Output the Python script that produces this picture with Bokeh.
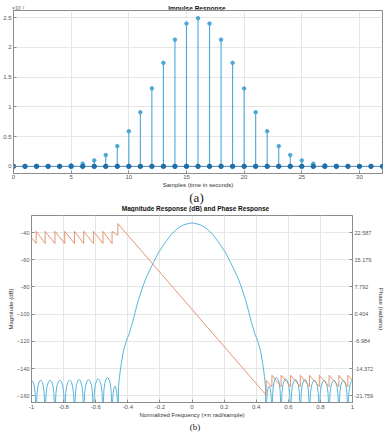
from bokeh.plotting import figure
from bokeh.models import (Range1d, LinearAxis, FixedTicker, PrintfTickFormatter,
                          CustomJSTickFormatter, Div)
from bokeh.core.properties import value
from bokeh.embed import file_html
from bokeh.resources import INLINE

# ---------------- impulse response (33 taps, values in units of 1e-3) ----------------
n = list(range(33))
h_milli = [0, 0, 0, 0, 0, 0.017, 0.045, 0.10, 0.19, 0.34, 0.59, 0.91, 1.31, 1.74, 2.13,
           2.40, 2.49, 2.40, 2.13, 1.74, 1.31, 0.91, 0.59, 0.34, 0.19, 0.10, 0.045, 0.017,
           0, 0, 0, 0, 0]
x_ticks_a = [0, 5, 10, 15, 20, 25, 30]
y_ticks_a = [0, 0.5, 1, 1.5, 2, 2.5]

# ---------------- magnitude response (dB), one half; the response is even ----------------
pass_f = [0.0, 0.05, 0.09, 0.13, 0.17, 0.21, 0.24, 0.285, 0.31, 0.335, 0.355, 0.37,
          0.39, 0.41, 0.427, 0.44, 0.452, 0.458]
pass_db = [-32.9, -34.2, -37.0, -41.5, -48.0, -55.0, -62.0, -73.0, -81.0, -90.0, -99.0,
           -106.0, -114.0, -120.0, -127.0, -136.0, -146.0, -154.0]
stop_nulls = [0.462, 0.498, 0.555, 0.614, 0.675, 0.732, 0.793, 0.854, 0.915, 0.971, 1.029]
stop_peaks = [-153.0, -146.5, -147.5, -148.0, -148.0, -148.5, -148.5, -148.5, -148.5, -148.5]
# sidelobe outline: position inside a lobe and level below the lobe's peak
lobe_t = [0.0, 0.04, 0.1, 0.2, 0.35, 0.5, 0.65, 0.8, 0.9, 0.96, 1.0]
lobe_drop = [-60.0, -20.0, -10.0, -4.3, -1.2, 0.0, -1.2, -4.3, -10.0, -20.0, -60.0]

# ---------------- phase response (radians): vertices at the sidelobe nulls ----------------
left_start = (-1.0, 21.1)
left_nulls = [-0.971, -0.915, -0.854, -0.793, -0.732, -0.675, -0.614, -0.555, -0.498, -0.462]
left_lo = [19.6, 19.6, 19.6, 19.6, 19.6, 19.6, 19.6, 19.6, 19.6, 21.8]
left_hi = [22.9, 22.9, 22.9, 22.9, 22.9, 22.9, 22.9, 22.9, 22.9, 25.0]
right_nulls = [0.462, 0.498, 0.555, 0.614, 0.675, 0.732, 0.793, 0.854, 0.915, 0.971]
right_lo = [-21.6, -19.4, -19.3, -19.3, -19.3, -19.3, -19.3, -19.3, -19.3, -19.3]
right_hi = [-17.6, -16.2, -16.2, -16.2, -16.2, -16.2, -16.2, -16.2, -16.2, -16.2]
right_end = (1.0, -17.7)

x_ticks_b = [-1, -0.8, -0.6, -0.4, -0.2, 0, 0.2, 0.4, 0.6, 0.8, 1]
mag_ticks = [-40, -60, -80, -100, -120, -140, -160]
phase_ticks = [22.587, 15.179, 7.792, 0.404, -6.984, -14.372, -21.759]

W = 387
SANS = "Liberation Sans"
SERIF = "Liberation Serif"
TICK_COLOR = "#555555"
GRID = "#e6e6e6"
FRAME = "#8c8c8c"
short_fmt = CustomJSTickFormatter(code="return String(Math.round(tick * 10) / 10)")


def style_axis(ax, label_size="6px"):
    ax.major_label_text_font = SANS
    ax.major_label_text_font_size = label_size
    ax.major_label_text_color = TICK_COLOR
    ax.major_tick_in = 3
    ax.major_tick_out = 0
    ax.minor_tick_in = 0
    ax.minor_tick_out = 0
    ax.major_label_standoff = 1
    ax.axis_line_color = FRAME
    ax.major_tick_line_color = FRAME
    ax.axis_label_text_font = SANS
    ax.axis_label_text_font_size = "6px"
    ax.axis_label_text_font_style = "normal"
    ax.axis_label_text_color = "#333333"
    ax.axis_label_standoff = 0


def text_strip(height, items):
    """A borderless strip holding titles and captions, positioned in pixels from its top-left."""
    s = figure(width=W, height=height, x_range=Range1d(0, W), y_range=Range1d(height, 0),
               x_axis_type=None, y_axis_type=None, output_backend="svg",
               toolbar_location=None, min_border=0, title=None)
    s.outline_line_color = None
    s.grid.visible = False
    for x, y, txt, font, size, style, align, color in items:
        s.text(x=[x], y=[y], text=[txt], text_font=value(font), text_font_size=value(size),
               text_font_style=style, text_align=align, text_baseline="middle",
               text_color=color)
    return s


def span(txt, left, top, width, font, size, weight, color, align, line_h):
    return (f'<span style="position:absolute;left:{left}px;top:{top}px;width:{width}px;'
            f'text-align:{align};font-family:\'{font}\';font-size:{size};font-weight:{weight};'
            f'color:{color};line-height:{line_h}px;white-space:nowrap;">{txt}</span>')


def header(height, spans):
    html = (f'<div style="position:relative;width:{W}px;height:{height}px;">'
            + "".join(spans) + '</div>')
    return Div(text=html, width=W, height=height, margin=(0, 0, 0, 0))


# ================= (a) impulse response =================
head_a = header(9, [
    span("×10⁻³", 12, 2, 30, SANS, "5px", "normal", TICK_COLOR, "left", 6),
    span("Impulse Response", 0, 2, 394, SANS, "6.5px", "bold", "#111111", "center", 8),
])

p1 = figure(width=W, height=181, x_range=Range1d(0, 32), y_range=Range1d(-0.12, 2.62),
            output_backend="svg", toolbar_location=None, title=None,
            min_border_left=12, min_border_right=5, min_border_top=1, min_border_bottom=17)
p1.outline_line_color = FRAME
p1.xgrid.grid_line_color = GRID
p1.ygrid.grid_line_color = GRID
p1.xaxis.ticker = FixedTicker(ticks=x_ticks_a)
p1.yaxis.ticker = FixedTicker(ticks=y_ticks_a)
p1.yaxis.formatter = short_fmt
p1.xaxis.axis_label = "Samples (time in seconds)"
style_axis(p1.xaxis[0])
style_axis(p1.yaxis[0])
p1.yaxis.major_label_standoff = 2

p1.segment(x0=n, y0=[0] * len(n), x1=n, y1=h_milli, line_color="#4aa8d6", line_width=1.1)
p1.line(x=[0, 32], y=[0, 0], line_color="#4f86b5", line_width=1)
p1.scatter(x=n, y=h_milli, size=3.5, fill_color="#4aa8d6", line_color="#4aa8d6")
p1.scatter(x=n, y=[0] * len(n), size=4.5, fill_color="#1f6fa8", line_color="#1f6fa8")

# caption (a) and the title of the second panel
mid = text_strip(22, [
    (196, 6.5, "(a)", SERIF, "13px", "normal", "center", "#222222"),
    (195, 17.5, "Magnitude Response (dB) and Phase Response", SANS, "6.5px", "bold",
     "center", "#111111"),
])

# ================= (b) magnitude and phase response =================
# magnitude: passband points, then sidelobes between successive nulls, mirrored to f < 0
half_f = list(pass_f)
half_db = list(pass_db)
for i, peak in enumerate(stop_peaks):
    a, b = stop_nulls[i], stop_nulls[i + 1]
    for j, (t, d) in enumerate(zip(lobe_t, lobe_drop)):
        if i > 0 and j == 0:
            continue
        half_f.append(a + t * (b - a))
        half_db.append(peak + d)
mag_f = [-f for f in reversed(half_f[1:])] + half_f
mag_db = list(reversed(half_db[1:])) + half_db

# phase: sawtooth vertices (value before and after each jump)
ph_f = [left_start[0]]
ph_v = [left_start[1]]
for f, lo, hi in zip(left_nulls, left_lo, left_hi):
    ph_f += [f, f]
    ph_v += [lo, hi]
for f, lo, hi in zip(right_nulls, right_lo, right_hi):
    ph_f += [f, f]
    ph_v += [lo, hi]
ph_f.append(right_end[0])
ph_v.append(right_end[1])

# the phase axis shares the magnitude grid: its ticks sit on the dB grid lines
db_lo, db_hi = -165.0, -27.5
k = (phase_ticks[0] - phase_ticks[-1]) / (mag_ticks[0] - mag_ticks[-1])
ph_lo = phase_ticks[0] + (db_lo - mag_ticks[0]) * k
ph_hi = phase_ticks[0] + (db_hi - mag_ticks[0]) * k

p2 = figure(width=W, height=210, x_range=Range1d(-1, 1), y_range=Range1d(db_lo, db_hi),
            output_backend="svg", toolbar_location=None, title=None,
            min_border_left=31, min_border_right=28, min_border_top=3, min_border_bottom=20)
p2.extra_y_ranges = {"phase": Range1d(ph_lo, ph_hi)}
p2.outline_line_color = FRAME
p2.xgrid.grid_line_color = GRID
p2.ygrid.grid_line_color = GRID
p2.xaxis.ticker = FixedTicker(ticks=x_ticks_b)
p2.xaxis.formatter = short_fmt
p2.yaxis.ticker = FixedTicker(ticks=mag_ticks)
p2.xaxis.axis_label = "Normalized Frequency (×π rad/sample)"
p2.yaxis.axis_label = "Magnitude (dB)"
style_axis(p2.xaxis[0])
p2.xaxis.major_label_standoff = 2
style_axis(p2.yaxis[0], "5.5px")
p2.yaxis.major_label_standoff = 2

ph_axis = LinearAxis(y_range_name="phase", ticker=FixedTicker(ticks=phase_ticks),
                     formatter=PrintfTickFormatter(format="%.3f"),
                     axis_label="Phase (radians)")
style_axis(ph_axis, "5.5px")
ph_axis.major_label_standoff = 2
ph_axis.axis_label_standoff = 2
p2.add_layout(ph_axis, "right")

p2.line(x=mag_f, y=mag_db, line_color="#5ab6dc", line_width=1)
p2.line(x=ph_f, y=ph_v, y_range_name="phase", line_color="#e08a60", line_width=0.9)

cap_b = header(11, [span("(b)", 0, 0, 390, SERIF, "9px", "normal", "#222222", "center", 9)])

open("out.html", "w").write(file_html([head_a, p1, mid, p2, cap_b], INLINE))
